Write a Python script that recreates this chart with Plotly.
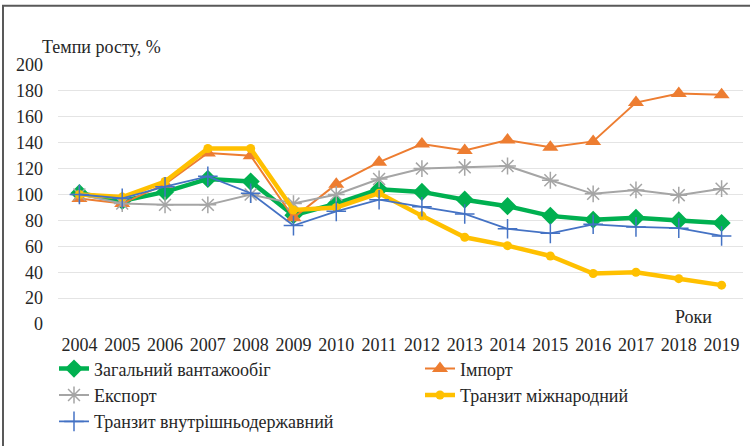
import plotly.graph_objects as go

years = [str(y) for y in range(2004, 2020)]

total = [101, 95, 102, 112, 110, 84, 93, 104, 102, 96, 91, 83.5, 80.5, 82, 80, 78]
imports = [97, 93, 108, 132, 130, 82, 108, 125, 139, 134, 142, 136.5, 141, 171, 178, 177]
exports = [100, 93, 92, 92, 100, 93, 100, 112, 120, 121, 122, 111, 100.5, 103.5, 99.5, 104.5]
transit_intl = [100, 98, 110, 135.5, 135.5, 88, 90, 101, 83.5, 67, 60.5, 52.5, 39, 40, 35, 30]
transit_dom = [100, 97, 106, 114, 101, 76, 87, 96, 90.5, 85, 73.5, 70, 77, 75, 74, 68]

serif = "Liberation Serif"
ink = "#262626"
fs = 18

fig = go.Figure()

fig.add_trace(go.Scatter(
    x=years, y=total, name="Загальний вантажообіг", mode="lines+markers",
    line=dict(color="#00B050", width=4.5),
    marker=dict(symbol="diamond", size=14, color="#00B050"), legend="legend"))
fig.add_trace(go.Scatter(
    x=years, y=imports, name="Імпорт", mode="lines+markers",
    line=dict(color="#ED7D31", width=2),
    marker=dict(symbol="triangle-up", size=14, color="#ED7D31"), legend="legend2"))
fig.add_trace(go.Scatter(
    x=years, y=exports, name="Експорт", mode="lines+markers",
    line=dict(color="#A5A5A5", width=2),
    marker=dict(symbol="asterisk-open", size=14, color="#A5A5A5",
                line=dict(color="#A5A5A5", width=1.5)), legend="legend"))
fig.add_trace(go.Scatter(
    x=years, y=transit_intl, name="Транзит міжнародний", mode="lines+markers",
    line=dict(color="#FFC000", width=4.5),
    marker=dict(symbol="circle", size=9, color="#FFC000"), legend="legend2"))
fig.add_trace(go.Scatter(
    x=years, y=transit_dom, name="Транзит внутрішньодержавний", mode="lines+markers",
    line=dict(color="#4472C4", width=1.8),
    marker=dict(symbol="cross-thin-open", size=14, color="#4472C4",
                line=dict(color="#4472C4", width=1.5)), legend="legend"))

L, R, T, B = 58, 7, 64.5, 121.5
W, H = 750, 446
pw, ph = W - L - R, H - T - B

def px_x(x):
    return (x - L) / pw

def px_y(y):
    return (H - B - y) / ph

legend_style = dict(
    orientation="v", xanchor="left", yanchor="top",
    font=dict(family=serif, size=fs, color=ink),
    tracegroupgap=0, itemwidth=30, bgcolor="rgba(0,0,0,0)")

fig.update_layout(
    width=W, height=H,
    margin=dict(l=L, r=R, t=T, b=B, pad=0, autoexpand=False),
    paper_bgcolor="white", plot_bgcolor="white",
    font=dict(family=serif, size=fs, color=ink),
    showlegend=True,
    legend=dict(x=px_x(54), y=px_y(351), **legend_style),
    legend2=dict(x=px_x(420), y=px_y(351), **legend_style),
    xaxis=dict(
        type="category", range=[-0.5, 15.5], showgrid=False, showline=False,
        zeroline=False, ticks="", tickfont=dict(family=serif, size=fs, color=ink),
        ticklabelstandoff=8),
    yaxis=dict(
        range=[0, 200], dtick=20, showgrid=True, gridcolor="#E4E4E4", gridwidth=1,
        zeroline=False, showline=False, ticks="",
        tickfont=dict(family=serif, size=fs, color=ink),
        ticklabelstandoff=14),
    annotations=[
        dict(text="Темпи росту, %", xref="paper", yref="paper",
             x=px_x(40), y=px_y(46), xanchor="left", yanchor="middle",
             showarrow=False, font=dict(family=serif, size=fs, color=ink)),
        dict(text="Роки", xref="paper", yref="paper",
             x=px_x(693), y=px_y(317), xanchor="center", yanchor="middle",
             showarrow=False, font=dict(family=serif, size=fs, color=ink)),
    ],
    shapes=[
        dict(type="rect", xref="paper", yref="paper",
             x0=px_x(3), x1=px_x(900), y0=px_y(700), y1=px_y(5),
             line=dict(color="#595959", width=2), fillcolor="rgba(0,0,0,0)",
             layer="below"),
    ],
)

fig.write_html("out.html")
